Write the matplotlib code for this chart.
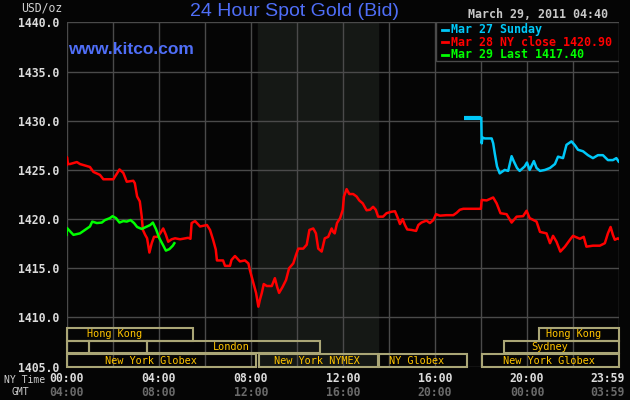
import matplotlib
matplotlib.use("Agg")
import matplotlib.pyplot as plt
from matplotlib.patches import Rectangle
from matplotlib.transforms import blended_transform_factory, offset_copy

# ---------------- data (minutes after NY midnight, price USD/oz) ----------------
red_t = [0, 1, 4, 9, 27, 35, 61, 70, 87, 96, 122, 126, 138, 148, 157, 174, 178, 184, 191, 196,
         199, 205, 210, 216, 222, 228, 237, 244, 252, 259, 265, 274, 283, 296, 317, 323, 326, 335,
         348, 366, 374, 382, 389, 392, 408, 413, 426, 430, 439, 452, 465, 474, 478, 487, 494, 500,
         504, 509, 514, 522, 535, 543, 549, 554, 563, 572, 580, 591, 598, 604, 617, 626, 633, 643,
         650, 656, 665, 673, 682, 691, 695, 699, 705, 713, 720, 723, 730, 737, 747, 756, 763, 772,
         782, 791, 799, 806, 812, 825, 834, 847, 856, 862, 869, 876, 882, 888, 899, 911, 917, 925,
         938, 947, 956, 963, 973, 990, 1008, 1017, 1025, 1034, 1080, 1082, 1095, 1112, 1121, 1131,
         1147, 1160, 1173, 1190, 1199, 1207, 1225, 1234, 1251, 1260, 1268, 1277, 1287, 1299, 1312,
         1320, 1338, 1348, 1355, 1372, 1390, 1403, 1411, 1418, 1424, 1429, 1437, 1439]
red_p = [1425.5, 1426.3, 1425.6, 1425.6, 1425.8, 1425.6, 1425.3, 1424.8, 1424.5, 1424.05, 1424.05,
         1424.3, 1425.05, 1424.7, 1423.8, 1423.9, 1423.65, 1422.3, 1421.8, 1420.25, 1418.9, 1418.4,
         1418.05, 1416.6, 1417.55, 1418.2, 1418.2, 1418.55, 1419.05, 1418.4, 1417.7, 1417.95, 1418.05,
         1417.95, 1418.1, 1418.0, 1419.6, 1419.8, 1419.25, 1419.4, 1418.9, 1417.9, 1416.9, 1415.8,
         1415.8, 1415.25, 1415.25, 1415.85, 1416.25, 1415.7, 1415.8, 1415.5, 1414.8, 1413.5, 1412.5,
         1411.1, 1411.8, 1412.5, 1413.4, 1413.2, 1413.2, 1414.0, 1413.1, 1412.5, 1413.1, 1413.8,
         1415.0, 1415.5, 1416.35, 1417.0, 1417.0, 1417.4, 1418.9, 1419.05, 1418.55, 1417.0, 1416.7,
         1418.05, 1418.2, 1419.05, 1418.7, 1418.55, 1419.6, 1420.1, 1420.95, 1422.3, 1423.05, 1422.55,
         1422.55, 1422.3, 1421.9, 1421.6, 1420.9, 1420.95, 1421.25, 1420.95, 1420.25, 1420.25, 1420.6,
         1420.75, 1420.8, 1420.25, 1419.5, 1420.0, 1419.4, 1418.95, 1418.9, 1418.8, 1419.4, 1419.65,
         1419.85, 1419.6, 1419.9, 1420.5, 1420.35, 1420.4, 1420.4, 1420.65, 1420.95, 1421.05, 1421.05,
         1421.95, 1421.9, 1422.2, 1421.6, 1420.6, 1420.5, 1419.65, 1420.25, 1420.3, 1420.85, 1420.1,
         1419.75, 1418.7, 1418.55, 1417.55, 1418.3, 1417.7, 1416.7, 1417.2, 1417.9, 1418.3, 1418.0,
         1418.2, 1417.2, 1417.3, 1417.3, 1417.55, 1418.55, 1419.2, 1418.4, 1417.9, 1418.05, 1418.0]

cyan_t = [1036, 1081, 1082, 1084, 1090, 1108, 1112, 1116, 1122, 1129, 1142, 1151, 1160, 1166, 1174,
          1181, 1194, 1200, 1207, 1218, 1225, 1234, 1247, 1260, 1273, 1281, 1294, 1303, 1316, 1325,
          1333, 1346, 1359, 1372, 1385, 1398, 1411, 1424, 1433, 1439]
cyan_p = [1430.25, 1430.25, 1427.7, 1428.3, 1428.2, 1428.2, 1427.7, 1426.7, 1425.35, 1424.65, 1425.0,
          1424.9, 1426.4, 1425.85, 1425.2, 1424.9, 1425.35, 1425.75, 1425.0, 1425.9, 1425.2, 1424.9,
          1425.0, 1425.2, 1425.6, 1426.35, 1426.2, 1427.55, 1427.9, 1427.5, 1427.05, 1426.9, 1426.5,
          1426.2, 1426.5, 1426.5, 1426.0, 1426.0, 1426.2, 1425.85]

green_t = [0, 1, 18, 35, 48, 61, 67, 79, 92, 100, 113, 120, 129, 138, 148, 157, 167, 176, 184, 196,
           207, 218, 225, 233, 242, 251, 259, 268, 277, 281]
green_p = [1418.4, 1419.1, 1418.4, 1418.55, 1418.9, 1419.25, 1419.75, 1419.6, 1419.65, 1419.9, 1420.1,
           1420.3, 1420.1, 1419.65, 1419.8, 1419.75, 1419.9, 1419.6, 1419.2, 1419.0, 1419.2, 1419.4,
           1419.65, 1419.0, 1418.05, 1417.4, 1416.8, 1416.95, 1417.3, 1417.55]

legend_labels = ["Mar 27 Sunday", "Mar 28 NY close 1420.90", "Mar 29 Last 1417.40"]
ny_ticks = ["00:00", "04:00", "08:00", "12:00", "16:00", "20:00", "23:59"]
gmt_ticks = ["04:00", "08:00", "12:00", "16:00", "20:00", "00:00", "03:59"]
tick_minutes = [0, 240, 480, 720, 960, 1200, 1439]
y_ticks = [1405, 1410, 1415, 1420, 1425, 1430, 1435, 1440]

# trading sessions: (row, start_min, end_min, label, label_center_min)
sessions = [
    (2, 0, 330, "Hong Kong", 126),
    (2, 1231, 1440, "Hong Kong", 1322),
    (1, 0, 59, "", 0),
    (1, 59, 210, "", 0),
    (1, 210, 660, "London", 429),
    (1, 1141, 1440, "Sydney", 1258),
    (0, 0, 495, "New York Globex", 219),
    (0, 501, 811, "New York NYMEX", 653),
    (0, 814, 1043, "NY Globex", 911),
    (0, 1083, 1440, "New York Globex", 1258),
]
nymex_floor = (500, 813)

# ---------------- styling ----------------
BG = "#050505"
GRID = "#4a4a4a"
MONO = "DejaVu Sans Mono"
RED, GREEN, CYAN = "#ff0000", "#00ff00", "#00c8f8"
BLUE = "#4f6ef7"

fig = plt.figure(figsize=(6.3, 4.0), dpi=100, facecolor=BG)
ax = fig.add_axes([0.1056, 0.0833, 0.877, 0.8608], facecolor=BG)
ax.set_xlim(0, 1440)
ax.set_ylim(1405, 1440)

ax.axvspan(*nymex_floor, color="#151815", zorder=0)

for v in range(0, 1441, 120):
    ax.axvline(v, color=GRID, lw=1.0, zorder=1)
for y in y_ticks:
    ax.axhline(y, color=GRID, lw=1.0, zorder=1)

for s in ax.spines.values():
    s.set_visible(False)
ax.set_xticks([])
ax.set_yticks(y_ticks)
ax.set_yticklabels([f"{v:.1f}" for v in y_ticks], family=MONO, fontweight="bold",
                   fontsize=8.3, color="#dcdcdc")
ax.tick_params(axis="y", length=0, pad=5)

# data lines
ax.plot(red_t, red_p, color=RED, lw=1.8, zorder=4)
ax.plot(green_t, green_p, color=GREEN, lw=1.8, zorder=5)
ax.plot(cyan_t[:2], cyan_p[:2], color=CYAN, lw=3.0, zorder=4, solid_capstyle="butt")
ax.plot(cyan_t[1:], cyan_p[1:], color=CYAN, lw=1.8, zorder=4)

# sessions
row_y = [1405.0, 1406.35, 1407.65]
row_h = 1.25
for row, x0, x1, lab, cx in sessions:
    ax.add_patch(Rectangle((x0, row_y[row]), x1 - x0, row_h, fill=False,
                           edgecolor="#aaa676", lw=1.5, zorder=6, clip_on=False))
    if lab:
        ax.text(cx, row_y[row] + row_h / 2, lab, ha="center", va="center", family=MONO,
                fontsize=7.4, color="#ffc400", zorder=7)

# legend box
ax.add_patch(Rectangle((962, 1436.08), 1440 - 962, 3.92, facecolor=BG, edgecolor=GRID,
                       lw=1.0, zorder=8))
for i, (lab, col) in enumerate(zip(legend_labels, [CYAN, RED, GREEN])):
    fy = 1 - (29.5 + 12.5 * i) / 400
    fig.add_artist(plt.Line2D([442 / 630, 447.5 / 630], [fy, fy], color=col, lw=2.0,
                              transform=fig.transFigure, zorder=9))
    fig.text(451 / 630, fy, lab, color=col, family=MONO, fontweight="bold", fontsize=8.4,
             va="center", ha="left", zorder=9)

# titles
fig.text(295 / 630, 1 - 11 / 400, "24 Hour Spot Gold (Bid)", color=BLUE,
         family="Liberation Sans", fontsize=14, ha="center", va="center")
fig.text(68 / 630, 1 - 49 / 400, "www.kitco.com", color=BLUE, family="Liberation Sans",
         fontweight="bold", fontsize=12.5, ha="left", va="center", zorder=9)
fig.text(608 / 630, 1 - 15 / 400, "March 29, 2011 04:40", color="#c8c8c8", family=MONO,
         fontweight="bold", fontsize=8.4, ha="right", va="center")
fig.text(62 / 630, 1 - 8 / 400, "USD/oz", color="#d0d0d0", family=MONO, fontsize=8.3,
         ha="right", va="center")

# x labels
tr = blended_transform_factory(ax.transData, fig.transFigure)
for m, ny, gmt in zip(tick_minutes, ny_ticks, gmt_ticks):
    if m == tick_minutes[-1]:
        t = offset_copy(tr, fig=fig, x=6, y=0, units="dots")
        ha = "right"
    else:
        t = tr
        ha = "center"
    ax.text(m, 1 - 379 / 400, ny, transform=t, ha=ha, va="center", family=MONO,
            fontweight="bold", fontsize=8.3, color="#dcdcdc", clip_on=False)
    ax.text(m, 1 - 393 / 400, gmt, transform=t, ha=ha, va="center", family=MONO,
            fontweight="bold", fontsize=8.3, color="#6a6a6a", clip_on=False)
fig.text(45 / 630, 1 - 380 / 400, "NY Time", color="#d0d0d0", family=MONO, fontsize=7.0,
         ha="right", va="center")
fig.text(29 / 630, 1 - 392 / 400, "GMT", color="#d0d0d0", family=MONO, fontsize=7.0,
         ha="right", va="center")

fig.savefig("out.png", dpi=100, facecolor=BG)
